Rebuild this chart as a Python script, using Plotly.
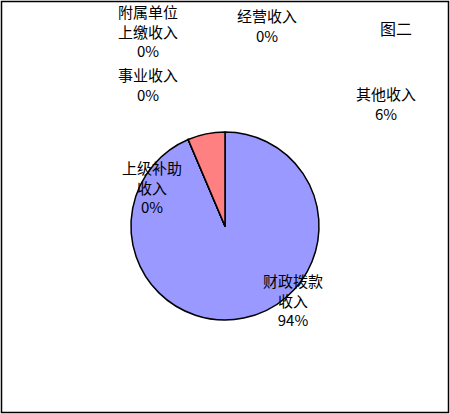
import plotly.graph_objects as go

# income categories (Excel-ish order) and their amounts
labels = ['财政拨款收入', '上级补助收入', '事业收入', '经营收入', '附属单位上缴收入', '其他收入']
label_text = ['财政拨款<br>收入', '上级补助<br>收入', '事业收入', '经营收入', '附属单位<br>上缴收入', '其他收入']
values = [93.6, 0, 0, 0, 0, 6.4]
colors = ['#9999FF', '#993366', '#FFFFCC', '#CCFFFF', '#660066', '#FF8080']
title = '图二'

W, H = 450, 414
font = 'Noto Sans CJK SC, SimSun, sans-serif'

# pie centre and radius in pixels
cx, cy, r = 225, 226, 94

fig = go.Figure()
fig.add_trace(go.Pie(
    labels=labels,
    values=values,
    sort=False,
    direction='clockwise',
    rotation=0,
    textinfo='none',
    hoverinfo='label+percent',
    marker=dict(colors=colors, line=dict(color='black', width=1.5)),
    domain=dict(x=[(cx - r) / W, (cx + r) / W],
                y=[(H - cy - r) / H, (H - cy + r) / H]),
    showlegend=False,
))

# label block centres (pixels), same order as labels
label_pos = [(293, 300), (152, 187), (148, 84), (267, 25), (148, 31), (386, 103)]

total = sum(values)
for txt, v, (px, py) in zip(label_text, values, label_pos):
    fig.add_annotation(
        x=px / W, y=1 - py / H, xref='paper', yref='paper',
        text=f"{txt}<br>{round(v / total * 100)}%",
        showarrow=False, xanchor='center', yanchor='middle',
        font=dict(family=font, size=15, color='black'),
    )

fig.add_annotation(
    x=396 / W, y=1 - 28 / H, xref='paper', yref='paper',
    text=title, showarrow=False, xanchor='center', yanchor='middle',
    font=dict(family=font, size=16, color='black'),
)

# chart area border
fig.add_shape(type='rect', xref='paper', yref='paper',
              x0=1.5 / W, y0=1.5 / H, x1=1 - 1.5 / W, y1=1 - 1.5 / H,
              line=dict(color='black', width=1.5))

fig.update_layout(
    width=W, height=H,
    margin=dict(l=0, r=0, t=0, b=0),
    paper_bgcolor='white',
    plot_bgcolor='white',
)

# drop the browser's default 8px body margin so the figure fills the window
fig.write_html("out.html", config={'displayModeBar': False},
               post_script="document.body.style.margin='0';")
